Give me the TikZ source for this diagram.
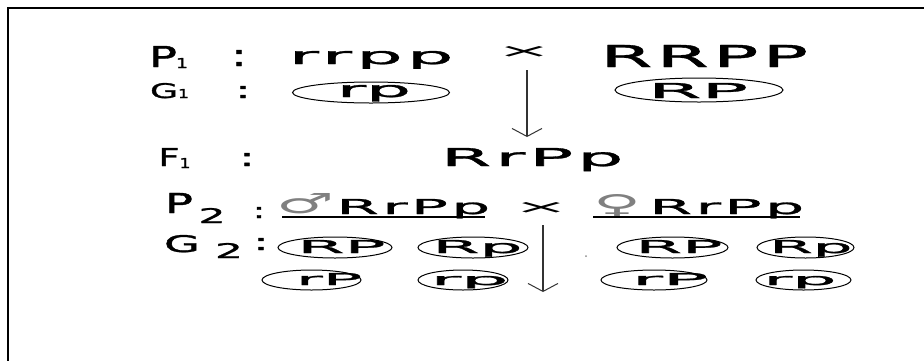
\documentclass[tikz,border=0pt]{standalone}
\usepackage{fontspec}
\usepackage{graphicx}
\setmainfont{DejaVu Sans}[FakeBold=1.2]
\newfontfamily\spc{DejaVu Sans}[LetterSpace=6,FakeBold=1.2]
\newfontfamily\symf{DejaVu Sans}
\usetikzlibrary{shapes.geometric,arrows.meta}
\newcommand{\fitbox}[3]{\resizebox{#1pt}{#2pt}{#3}}
\newcommand{\fitw}[3]{\resizebox{#1pt}{#2pt}{\spc #3\kern-0.06em}}
\begin{document}
\begin{tikzpicture}[x=1pt,y=-1pt,
  txt/.style={inner sep=0pt, outer sep=0pt, anchor=base},
  lbl/.style={inner sep=0pt, outer sep=0pt, anchor=base west},
  sym/.style={inner sep=0pt, outer sep=0pt, anchor=base, text=black!50, font=\symf},
  gam/.style={ellipse, draw=black, line width=1pt, inner sep=0pt},
  arr/.style={draw=black!80, line width=1.5pt, -{Straight Barb[length=8pt,width=30pt,line width=1pt]}},
  uline/.style={line width=1.6pt}]
\useasboundingbox (0,0) rectangle (924,360);
\fill[white] (0,0) rectangle (924,360);
\draw[line width=2pt] (8,362) -- (8,8) -- (926,8);

% Row P1
\node[lbl] (p1) at (149,67) {\fitbox{28}{21}{P}\kern-1pt\raisebox{-1pt}{\fitbox{12}{10}{1}}};
\node[txt] (p1c) at (239,66) {\fitbox{16}{16}{:}};
\node[txt] (rrpp) at (369,64) {\fitw{160}{13}{rrpp}};
\node[inner sep=0pt] (x1) at (524,52) {\fitbox{56}{11}{\symf ×}};
\node[txt] (RRPP) at (702,67) {\fitw{203}{22}{RRPP}};

% Row G1
\node[lbl] (g1) at (150,98) {\fitbox{28}{15}{G}\kern0pt\fitbox{11}{9}{1}};
\node[txt] (g1c) at (243,98) {\fitbox{16}{12}{:}};
\node[gam, minimum width=157pt, minimum height=21pt] (e1) at (371,92.5) {};
\node[txt] (t1) at (374,97) {\fitbox{74}{12}{rp}};
\node[gam, minimum width=168pt, minimum height=24pt] (e2) at (699,90) {};
\node[txt] (t2) at (698,98) {\fitbox{100}{15}{RP}};

\coordinate (a1s) at (527,70);
\coordinate (a1e) at (527,137);
\draw[arr] (a1s) -- (a1e);

% Row F1
\node[lbl] (f1) at (158.5,166) {\fitbox{21}{18}{F}\kern0pt\raisebox{-2pt}{\fitbox{11}{10}{1}}};
\node[txt] (f1c) at (247,166) {\fitbox{16}{13}{:}};
\node[txt] (RrPp) at (530,166) {\fitw{178}{18}{RrPp}};

% Row P2
\node[lbl] (p2) at (165,213) {\fitbox{28}{20}{P}\kern5.5pt\raisebox{-10pt}{\fitbox{27}{15}{2}}};
\node[txt] (p2c) at (259,218) {\fitbox{12}{11}{:}};
\node[sym] (male) at (305,213) {\fitbox{58}{20}{♂}};
\node[txt] (m2) at (411.5,214) {\fitw{150}{15}{RrPp}};
\node[inner sep=0pt] (x2) at (541,208) {\fitbox{56}{11}{\symf ×}};
\node[sym] (female) at (617,214) {\fitbox{48}{20}{♀}};
\node[txt] (f2) at (725,214) {\fitw{151}{15}{RrPp}};
\coordinate (u1a) at (282,217);
\coordinate (u1b) at (485,217);
\coordinate (u2a) at (593,217);
\coordinate (u2b) at (800,217);
\draw[uline] (u1a) -- (u1b);
\draw[uline] (u2a) -- (u2b);

% Row G2
\node[lbl] (g2) at (164,252) {\fitbox{36}{17}{G}\kern15pt\raisebox{-6pt}{\fitbox{28}{15}{2}}};
\node[txt] (g2c) at (261,250) {\fitbox{16}{12}{:}};

\node[gam, minimum width=114pt, minimum height=21pt] (e3) at (335,247.5) {};
\node[txt] (t3) at (341.5,253) {\fitbox{88}{13}{RP}};
\node[gam, minimum width=110pt, minimum height=21pt] (e4) at (473,247.5) {};
\node[txt] (t4) at (477.5,253) {\fitbox{90}{13}{Rp}};
\node[gam, minimum width=111pt, minimum height=21pt] (e5) at (672.5,247.5) {};
\node[txt] (t5) at (679,253) {\fitbox{87}{13}{RP}};
\node[gam, minimum width=97pt, minimum height=21pt] (e6) at (805.5,247.5) {};
\node[txt] (t6) at (811,253) {\fitbox{83}{13}{Rp}};

% Row 3
\node[gam, minimum width=99pt, minimum height=20pt] (e7) at (311.5,280) {};
\node[txt] (t7) at (329,285) {\fitbox{66}{12}{rP}};
\node[gam, minimum width=90pt, minimum height=20pt] (e8) at (463,280) {};
\node[txt] (t8) at (469.5,285) {\fitbox{78}{9}{rp}};
\node[gam, minimum width=106pt, minimum height=20pt] (e9) at (654,280) {};
\node[txt] (t9) at (670,285) {\fitbox{76}{12}{rP}};
\node[gam, minimum width=95pt, minimum height=20pt] (e10) at (803.5,280) {};
\node[txt] (t10) at (800,285) {\fitbox{73}{9}{rp}};

\coordinate (a2s) at (543,225);
\coordinate (a2e) at (543,292);
\draw[arr] (a2s) -- (a2e);

\fill[black!45] (586,256) circle (1pt);
\end{tikzpicture}
\end{document}
